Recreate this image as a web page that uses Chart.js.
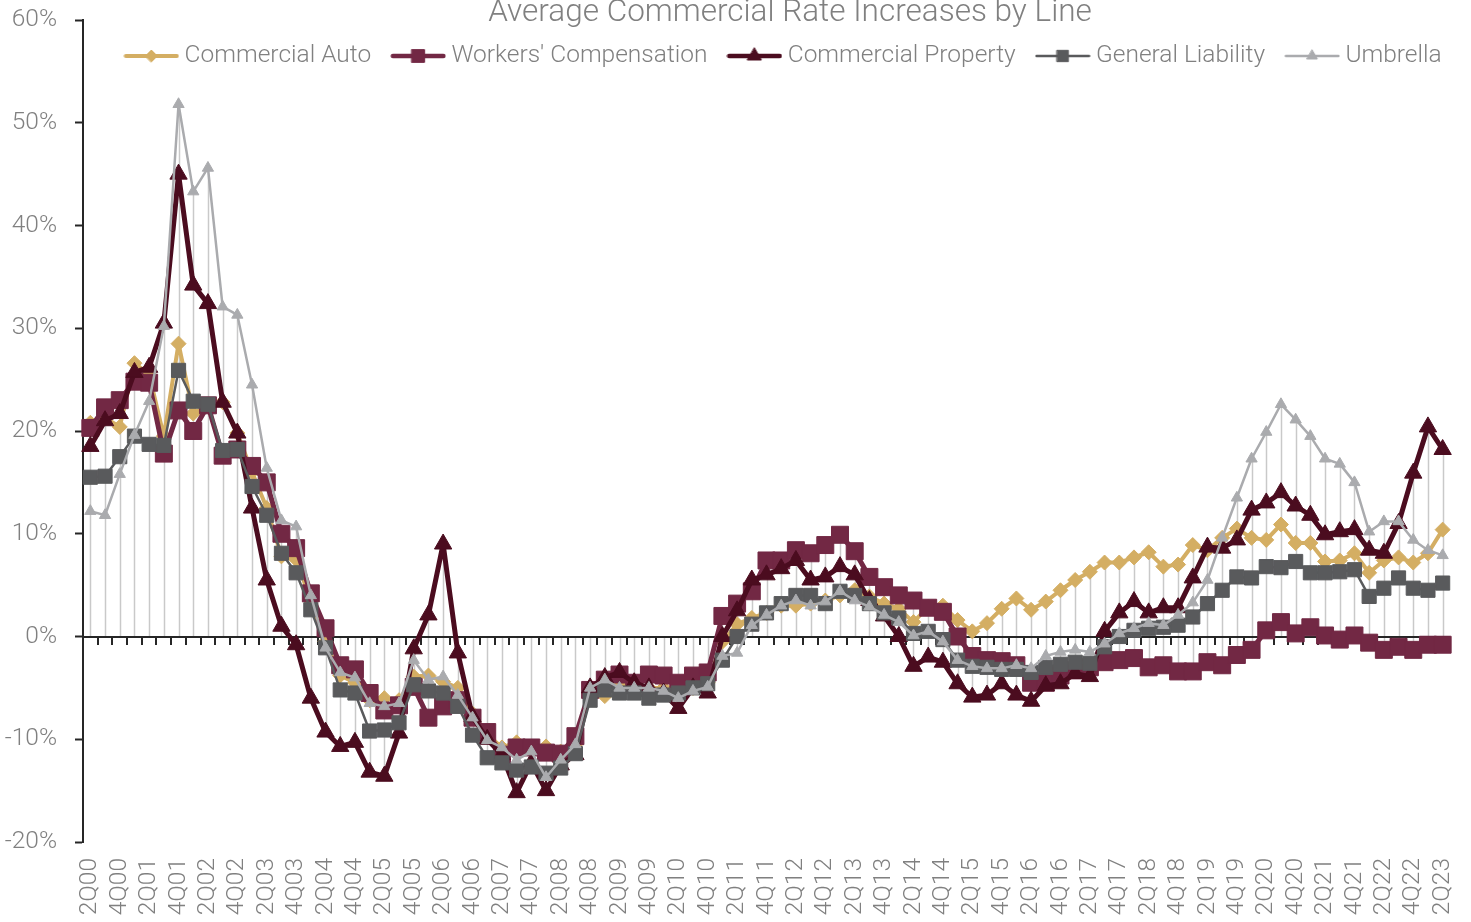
<!DOCTYPE html>
<html>
<head>
<meta charset="utf-8">
<script src="https://cdn.jsdelivr.net/npm/chart.js@4.4.0/dist/chart.umd.min.js"></script>
<style>html,body{margin:0;padding:0;background:#ffffff;}canvas{display:block;}</style>
</head>
<body>
<canvas id="chart" width="1471" height="922"></canvas>
<script>
const categories = [
 '2Q00','3Q00','4Q00','1Q01','2Q01','3Q01','4Q01','1Q02','2Q02','3Q02','4Q02',
 '1Q03','2Q03','3Q03','4Q03','1Q04','2Q04','3Q04','4Q04','1Q05','2Q05','3Q05','4Q05',
 '1Q06','2Q06','3Q06','4Q06','1Q07','2Q07','3Q07','4Q07','1Q08','2Q08','3Q08','4Q08',
 '1Q09','2Q09','3Q09','4Q09','1Q10','2Q10','3Q10','4Q10','1Q11','2Q11','3Q11','4Q11',
 '1Q12','2Q12','3Q12','4Q12','1Q13','2Q13','3Q13','4Q13','1Q14','2Q14','3Q14','4Q14',
 '1Q15','2Q15','3Q15','4Q15','1Q16','2Q16','3Q16','4Q16','1Q17','2Q17','3Q17','4Q17',
 '1Q18','2Q18','3Q18','4Q18','1Q19','2Q19','3Q19','4Q19','1Q20','2Q20','3Q20','4Q20',
 '1Q21','2Q21','3Q21','4Q21','1Q22','2Q22','3Q22','4Q22','1Q23','2Q23'
];

const commercialAuto = [
 20.8, 21.3, 20.4, 26.6, 25.5, 19.5, 28.5, 21.7, 22.5, 22.8,
 19.8, 16.0, 12.5, 7.8, 7.5, 3.5, -0.5, -3.8, -4.5, -6.2,
 -6.0, -6.2, -3.9, -3.8, -4.4, -5.0, -7.5, -9.5, -10.8, -10.3,
 -10.7, -10.7, -11.2, -10.5, -5.0, -5.8, -4.5, -5.0, -5.0, -5.0,
 -5.5, -5.0, -4.5, -0.5, 1.2, 1.8, 2.3, 3.0, 3.0, 3.2,
 3.5, 4.0, 4.5, 3.9, 3.2, 2.7, 1.4, 2.9, 3.0, 1.6,
 0.5, 1.3, 2.7, 3.7, 2.6, 3.4, 4.5, 5.5, 6.3, 7.2,
 7.2, 7.7, 8.2, 6.8, 7.0, 8.9, 8.4, 9.6, 10.5, 9.6,
 9.4, 10.9, 9.1, 9.1, 7.3, 7.4, 8.1, 6.2, 7.4, 7.7,
 7.2, 8.1, 10.4
];
const workersComp = [
 20.3, 22.3, 23.0, 24.8, 24.7, 17.8, 22.0, 20.0, 22.5, 17.6,
 18.2, 16.6, 15.0, 10.0, 8.6, 4.2, 0.8, -2.8, -3.2, -5.5,
 -7.2, -6.7, -4.9, -7.9, -6.8, -6.2, -7.9, -9.3, -11.5, -10.8,
 -10.8, -11.3, -11.4, -9.7, -5.2, -4.2, -3.7, -4.5, -3.7, -3.8,
 -4.5, -3.8, -3.5, 2.0, 3.2, 4.4, 7.4, 7.4, 8.4, 8.1,
 8.9, 9.9, 8.3, 5.8, 4.8, 4.0, 3.5, 2.8, 2.4, 0.0,
 -1.9, -2.3, -2.4, -2.8, -4.5, -4.5, -3.8, -3.3, -3.0, -2.5,
 -2.3, -2.1, -3.0, -2.8, -3.4, -3.4, -2.5, -2.8, -1.8, -1.3,
 0.6, 1.4, 0.3, 0.9, 0.1, -0.3, 0.1, -0.6, -1.3, -1.0,
 -1.3, -0.8, -0.8
];
const commercialProperty = [
 18.5, 21.0, 21.7, 25.7, 26.2, 30.5, 45.0, 34.2, 32.4, 22.8,
 19.8, 12.5, 5.5, 1.0, -0.8, -6.0, -9.3, -10.7, -10.3, -13.2,
 -13.6, -9.4, -1.2, 2.1, 9.0, -1.6, -7.8, -10.0, -11.5, -15.2,
 -12.3, -15.0, -12.5, -11.5, -5.0, -4.0, -3.5, -4.5, -5.0, -5.5,
 -7.0, -5.0, -5.5, 0.0, 2.5, 5.5, 6.0, 6.6, 7.4, 5.5,
 5.8, 6.8, 6.0, 3.5, 2.0, 0.0, -2.9, -2.0, -2.5, -4.6,
 -5.9, -5.7, -4.6, -5.7, -6.3, -4.8, -4.6, -3.6, -3.9, 0.5,
 2.3, 3.4, 2.3, 2.8, 2.8, 5.7, 8.7, 8.6, 9.4, 12.3,
 13.0, 14.0, 12.7, 11.8, 9.9, 10.2, 10.4, 8.4, 8.1, 11.0,
 15.9, 20.4, 18.2
];
const generalLiability = [
 15.5, 15.6, 17.5, 19.5, 18.7, 18.6, 25.9, 22.9, 22.6, 18.1,
 18.2, 14.6, 11.8, 8.1, 6.2, 2.6, -1.1, -5.2, -5.5, -9.2,
 -9.1, -8.4, -4.7, -5.3, -5.5, -6.8, -9.6, -11.8, -12.3, -13.0,
 -12.7, -13.3, -12.8, -11.4, -6.2, -5.2, -5.5, -5.5, -6.0, -5.7,
 -5.5, -5.0, -4.6, -2.3, 0.0, 1.2, 2.3, 3.2, 4.0, 4.0,
 3.2, 4.4, 4.0, 3.2, 2.3, 1.8, 0.3, 0.5, -0.3, -2.3,
 -2.9, -3.0, -3.2, -3.2, -3.5, -3.0, -2.7, -2.5, -2.6, -1.0,
 0.0, 0.6, 0.8, 0.9, 1.1, 1.9, 3.2, 4.5, 5.8, 5.7,
 6.8, 6.7, 7.3, 6.2, 6.2, 6.3, 6.5, 3.9, 4.7, 5.7,
 4.7, 4.5, 5.2
];
const umbrella = [
 12.2, 11.8, 15.8, 19.6, 22.9, 30.2, 51.8, 43.3, 45.6, 32.1,
 31.3, 24.5, 16.4, 11.3, 10.7, 4.0, -1.1, -3.5, -4.0, -6.5,
 -6.8, -6.5, -2.3, -4.2, -3.9, -5.7, -7.9, -10.1, -10.8, -12.0,
 -11.2, -13.7, -12.0, -10.5, -5.0, -4.2, -5.0, -5.0, -5.0, -5.3,
 -6.0, -5.3, -4.9, -1.9, -1.6, 1.1, 2.1, 3.0, 3.5, 3.0,
 3.4, 4.4, 3.5, 2.9, 2.1, 1.4, 0.1, 0.5, -0.5, -2.3,
 -2.9, -3.1, -3.1, -2.8, -3.1, -1.9, -1.5, -1.3, -1.5, -0.7,
 0.3, 0.8, 1.3, 1.1, 2.1, 3.3, 5.5, 9.6, 13.5, 17.3,
 19.9, 22.6, 21.1, 19.5, 17.3, 16.8, 15.0, 10.2, 11.2, 11.2,
 9.4, 8.4, 7.9
];
const seriesLabels = ['Commercial Auto', "Workers' Compensation", 'Commercial Property', 'General Liability', 'Umbrella'];
const titleText = 'Average Commercial Rate Increases by Line';

// ---- styling ----
const FONT_FAMILY = "Roboto, 'Liberation Sans', 'DejaVu Sans', sans-serif";
const TEXT_GRAY = '#808080';
const AXIS_COLOR = '#262626';
const DROP_COLOR = '#c9c9c9';
const COLORS = ['#D4AE63', '#722844', '#4B0C1F', '#595A5C', '#AAABAE'];
const LINE_W = [4, 5, 5, 2.5, 2.5];
const P_STYLE = ['rectRot', 'rect', 'triangle', 'rect', 'triangle'];
const P_RADIUS = [7.5, 12, 10, 10, 6.5];
const LEG_RADIUS = [6, 9, 8, 8, 6];
const LEG_LINE_W = [4, 4.5, 4.5, 2.5, 2.5];
const TICK_FONT = 24.5;
const LEGEND_FONT = 24.5;
const TITLE_FONT = 31.5;
const LEGEND_PAD = 26;
const TITLE_CX = 790, TITLE_CY = 13;
const LEGEND_CX = 782.5, LEGEND_CY = 56;

const seriesData = [commercialAuto, workersComp, commercialProperty, generalLiability, umbrella];

function legendIcon(i) {
  const c = document.createElement('canvas');
  c.width = 56; c.height = 26;
  const g = c.getContext('2d');
  g.strokeStyle = COLORS[i];
  g.lineWidth = LEG_LINE_W[i];
  g.lineCap = 'round';
  g.beginPath();
  g.moveTo(LEG_LINE_W[i] / 2 + 0.5, 13);
  g.lineTo(56 - LEG_LINE_W[i] / 2 - 0.5, 13);
  g.stroke();
  g.fillStyle = COLORS[i];
  g.lineWidth = 1;
  Chart.helpers.drawPoint(g, {pointStyle: P_STYLE[i], radius: LEG_RADIUS[i], rotation: 0, borderWidth: 1}, 28, 13);
  return c;
}
const legendIcons = seriesLabels.map((_, i) => legendIcon(i));

const datasets = seriesLabels.map((label, i) => ({
  label: label,
  data: seriesData[i],
  borderColor: COLORS[i],
  backgroundColor: COLORS[i],
  borderWidth: LINE_W[i],
  borderJoinStyle: 'round',
  borderCapStyle: 'round',
  pointStyle: P_STYLE[i],
  pointRadius: P_RADIUS[i],
  pointHoverRadius: P_RADIUS[i],
  pointBorderWidth: 1,
  pointBackgroundColor: COLORS[i],
  pointBorderColor: COLORS[i],
  tension: 0,
  fill: false,
  order: 5 - i
}));

// Title and legend float over the plot (as in the original): they take no layout space.
const overlayPlugin = {
  id: 'overlay',
  beforeLayout(chart) {
    [chart.titleBlock, chart.legend].forEach(b => {
      if (b && !b.__patched) {
        const orig = b.update;
        b.update = function () {
          orig.apply(this, arguments);
          this.__h = this.height;
          this.height = 0;
          this.bottom = this.top;
        };
        b.__patched = true;
      }
    });
  },
  afterLayout(chart) {
    const t = chart.titleBlock;
    if (t) {
      const h = t.__h || 0;
      const w = t.right - t.left;
      t.left = TITLE_CX - w / 2; t.right = TITLE_CX + w / 2;
      t.top = TITLE_CY - h / 2; t.height = h; t.bottom = t.top + h;
    }
    const l = chart.legend;
    if (l && l.lineWidths) {
      const lw = l.lineWidths[0];
      const x0 = LEGEND_CX - (lw - LEGEND_PAD - 7) / 2;
      const cur = (l.left + LEGEND_PAD + l.right - lw) / 2;
      const dx = x0 - cur;
      l.left += dx; l.right += dx;
      const h = l.__h || 0;
      l.top = LEGEND_CY - LEGEND_PAD - LEGEND_FONT / 2;
      l.height = h; l.bottom = l.top + h;
    }
  }
};

const refLinesPlugin = {
  id: 'refLines',
  beforeDatasetsDraw(chart) {
    const {ctx, chartArea: a, scales: {x, y}} = chart;
    const ds = chart.data.datasets;
    ctx.save();
    ctx.strokeStyle = DROP_COLOR;
    ctx.lineWidth = 1.5;
    for (let i = 0; i < categories.length; i++) {
      const vals = ds.map(d => d.data[i]);
      const hi = Math.max(0, ...vals);
      const lo = Math.min(0, ...vals);
      const px = Math.round(x.getPixelForValue(i)) + 0.5;
      ctx.beginPath();
      ctx.moveTo(px, y.getPixelForValue(hi));
      ctx.lineTo(px, y.getPixelForValue(lo));
      ctx.stroke();
    }
    const y0 = Math.round(y.getPixelForValue(0));
    ctx.strokeStyle = AXIS_COLOR;
    ctx.lineWidth = 2;
    ctx.beginPath();
    ctx.moveTo(a.left, y0);
    ctx.lineTo(a.right, y0);
    ctx.stroke();
    for (let k = 1; k <= categories.length; k++) {
      const bx = Math.round(x.getPixelForValue(k - 0.5));
      ctx.beginPath();
      ctx.moveTo(bx, y0);
      ctx.lineTo(bx, y0 + 8);
      ctx.stroke();
    }
    ctx.restore();
  }
};

Chart.defaults.font.family = FONT_FAMILY;
Chart.defaults.font.weight = '300';
Chart.defaults.color = TEXT_GRAY;

new Chart(document.getElementById('chart'), {
  type: 'line',
  data: { labels: categories, datasets: datasets },
  options: {
    responsive: false,
    animation: false,
    devicePixelRatio: 1,
    layout: { padding: { top: 20, right: 21, left: 0, bottom: 0 } },
    plugins: {
      tooltip: { enabled: false },
      title: {
        display: true,
        text: titleText,
        color: TEXT_GRAY,
        font: { family: FONT_FAMILY, size: TITLE_FONT, weight: '300', lineHeight: 1.2 },
        padding: 0
      },
      legend: {
        display: true,
        position: 'top',
        labels: {
          usePointStyle: true,
          pointStyleWidth: 42,
          padding: LEGEND_PAD,
          color: TEXT_GRAY,
          font: { family: FONT_FAMILY, size: LEGEND_FONT, weight: '300' },
          generateLabels: (chart) => chart.data.datasets.map((d, i) => ({
            text: d.label,
            fillStyle: COLORS[i],
            strokeStyle: COLORS[i],
            lineWidth: 0,
            pointStyle: legendIcons[i],
            hidden: false,
            datasetIndex: i,
            fontColor: TEXT_GRAY
          }))
        }
      }
    },
    scales: {
      x: {
        type: 'category',
        offset: true,
        grid: { display: false, drawTicks: false },
        border: { display: false },
        ticks: {
          autoSkip: false,
          minRotation: 90,
          maxRotation: 90,
          padding: 16,
          color: TEXT_GRAY,
          font: { family: FONT_FAMILY, size: TICK_FONT, weight: '300' },
          callback: function (value, index) { return index % 2 === 0 ? categories[index] : ''; }
        },
        afterFit: (s) => { s.height = 80; s.paddingLeft = 0; s.paddingRight = 0; }
      },
      y: {
        min: -20,
        max: 60,
        ticks: {
          stepSize: 10,
          padding: 18,
          color: TEXT_GRAY,
          font: { family: FONT_FAMILY, size: TICK_FONT, weight: '300' },
          callback: (v) => v + '%'
        },
        grid: { drawOnChartArea: false, drawTicks: true, tickLength: 8, tickColor: AXIS_COLOR, tickWidth: 2 },
        border: { display: true, color: AXIS_COLOR, width: 2 },
        afterFit: (s) => { s.width = 83; s.paddingTop = 0; s.paddingBottom = 0; }
      }
    }
  },
  plugins: [overlayPlugin, refLinesPlugin]
});
</script>
</body>
</html>
